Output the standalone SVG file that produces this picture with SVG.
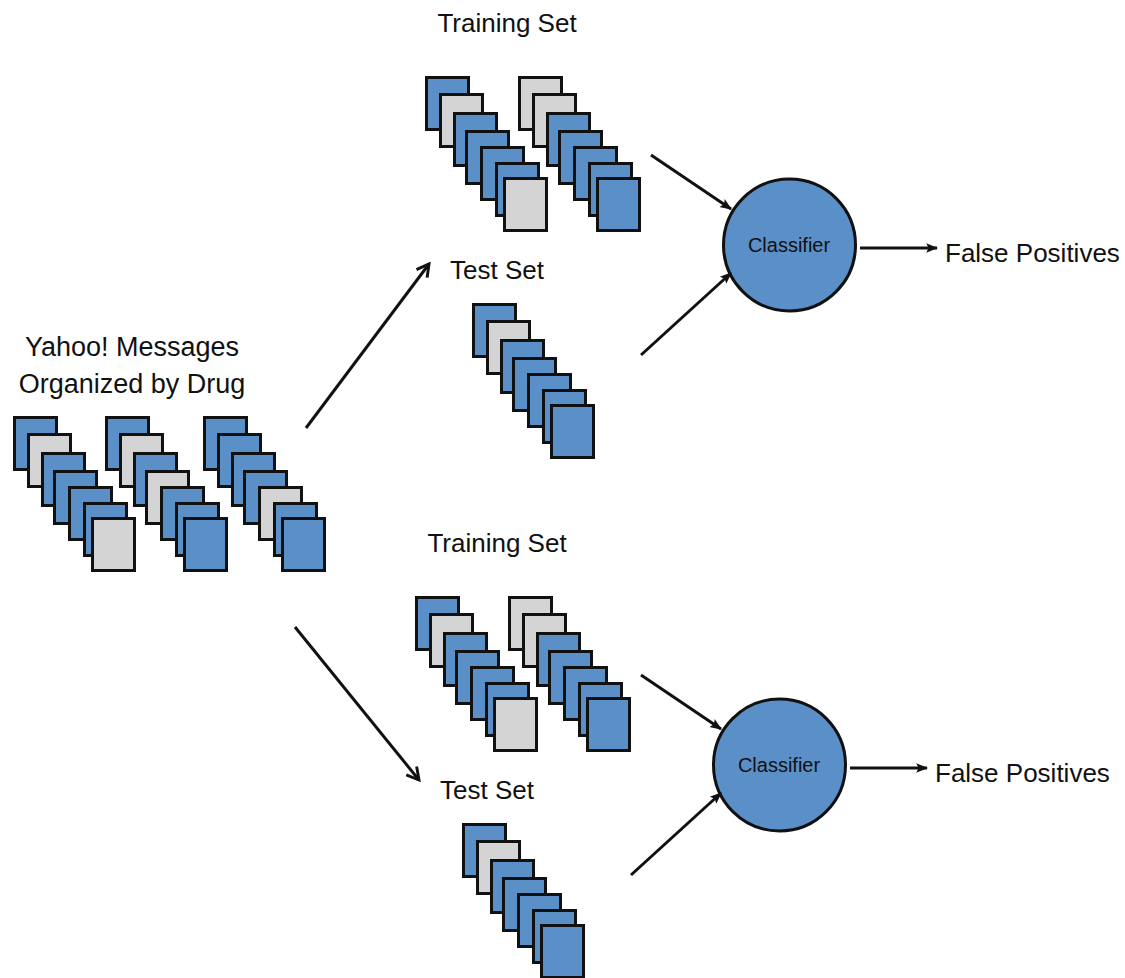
<svg xmlns="http://www.w3.org/2000/svg" width="1125" height="978" viewBox="0 0 1125 978">
<defs>
<style>
.b{fill:#5b8fc7;stroke:#111;stroke-width:3}
.g{fill:#d4d4d4;stroke:#111;stroke-width:3}
.c{fill:#5b8fc7;stroke:#111;stroke-width:3}
.t{font-family:"Liberation Sans",Arial,sans-serif;font-size:26px;fill:#111}
.ct{font-family:"Liberation Sans",Arial,sans-serif;font-size:20px;fill:#111;text-anchor:middle}
.m{text-anchor:middle}
.l{stroke:#111;stroke-width:3;fill:none}
.l2{stroke:#111;stroke-width:3;fill:none}
</style>
<marker id="open" viewBox="0 0 12 12" refX="10" refY="6" markerWidth="16" markerHeight="16" markerUnits="userSpaceOnUse" orient="auto">
<path d="M1,1 L10,6 L1,11" fill="none" stroke="#111" stroke-width="2.2"/>
</marker>
<marker id="tri" viewBox="0 0 10 10" refX="9" refY="5" markerWidth="12" markerHeight="12" markerUnits="userSpaceOnUse" orient="auto">
<path d="M0,1 L10,5 L0,9 L2,5 Z" fill="#111"/>
</marker>
<g id="stackBGBBBBG">
<rect class="b" x="1.5" y="1.5" width="42" height="52"/>
<rect class="g" x="15.5" y="18.5" width="42" height="52"/>
<rect class="b" x="29.5" y="37.5" width="42" height="52"/>
<rect class="b" x="41.5" y="55.5" width="42" height="52"/>
<rect class="b" x="56.5" y="71.5" width="42" height="52"/>
<rect class="b" x="71.5" y="87.5" width="42" height="52"/>
<rect class="g" x="79.5" y="102.5" width="42" height="52"/>
</g>
<g id="stackGGBBBBB">
<rect class="g" x="1.5" y="1.5" width="42" height="52"/>
<rect class="g" x="15.5" y="18.5" width="42" height="52"/>
<rect class="b" x="29.5" y="37.5" width="42" height="52"/>
<rect class="b" x="41.5" y="55.5" width="42" height="52"/>
<rect class="b" x="56.5" y="71.5" width="42" height="52"/>
<rect class="b" x="71.5" y="87.5" width="42" height="52"/>
<rect class="b" x="79.5" y="102.5" width="42" height="52"/>
</g>
<g id="stackBGBBBBB">
<rect class="b" x="1.5" y="1.5" width="42" height="52"/>
<rect class="g" x="15.5" y="18.5" width="42" height="52"/>
<rect class="b" x="29.5" y="37.5" width="42" height="52"/>
<rect class="b" x="41.5" y="55.5" width="42" height="52"/>
<rect class="b" x="56.5" y="71.5" width="42" height="52"/>
<rect class="b" x="71.5" y="87.5" width="42" height="52"/>
<rect class="b" x="79.5" y="102.5" width="42" height="52"/>
</g>
</defs>
<rect width="1125" height="978" fill="#fff"/>

<g id="source">
<text class="t m" x="132" y="356" style="font-size:27px">Yahoo! Messages</text>
<text class="t m" x="132" y="393" style="font-size:27px">Organized by Drug</text>
<g transform="translate(13,416)" id="src-stack1">
<rect class="b" x="1.5" y="1.5" width="42" height="52"/>
<rect class="g" x="15.5" y="18.5" width="42" height="52"/>
<rect class="b" x="29.5" y="37.5" width="42" height="52"/>
<rect class="b" x="41.5" y="55.5" width="42" height="52"/>
<rect class="b" x="56.5" y="71.5" width="42" height="52"/>
<rect class="b" x="71.5" y="87.5" width="42" height="52"/>
<rect class="g" x="79.5" y="102.5" width="42" height="52"/>
</g>
<g transform="translate(105,416)" id="src-stack2">
<rect class="b" x="1.5" y="1.5" width="42" height="52"/>
<rect class="g" x="15.5" y="18.5" width="42" height="52"/>
<rect class="b" x="29.5" y="37.5" width="42" height="52"/>
<rect class="g" x="41.5" y="55.5" width="42" height="52"/>
<rect class="b" x="56.5" y="71.5" width="42" height="52"/>
<rect class="b" x="71.5" y="87.5" width="42" height="52"/>
<rect class="b" x="79.5" y="102.5" width="42" height="52"/>
</g>
<g transform="translate(203,416)" id="src-stack3">
<rect class="b" x="1.5" y="1.5" width="42" height="52"/>
<rect class="b" x="15.5" y="18.5" width="42" height="52"/>
<rect class="b" x="29.5" y="37.5" width="42" height="52"/>
<rect class="b" x="41.5" y="55.5" width="42" height="52"/>
<rect class="g" x="56.5" y="71.5" width="42" height="52"/>
<rect class="b" x="71.5" y="87.5" width="42" height="52"/>
<rect class="b" x="79.5" y="102.5" width="42" height="52"/>
</g>
</g>

<g id="train-top">
<text class="t m" x="507" y="32">Training Set</text>
<use href="#stackBGBBBBG" x="425" y="76"/>
<use href="#stackGGBBBBB" x="518" y="76"/>
</g>
<g id="test-top">
<text class="t m" x="497" y="279">Test Set</text>
<use href="#stackBGBBBBB" x="472" y="303"/>
</g>
<g id="classifier-top">
<circle class="c" cx="789.5" cy="245" r="66"/>
<text class="ct" x="789" y="252">Classifier</text>
</g>
<g id="fp-top">
<text class="t" x="945" y="262">False Positives</text>
</g>

<g id="train-bottom">
<text class="t m" x="497" y="552">Training Set</text>
<use href="#stackBGBBBBG" x="415" y="596"/>
<use href="#stackGGBBBBB" x="508" y="596"/>
</g>
<g id="test-bottom">
<text class="t m" x="487" y="799">Test Set</text>
<use href="#stackBGBBBBB" x="462" y="823"/>
</g>
<g id="classifier-bottom">
<circle class="c" cx="779.5" cy="765" r="66"/>
<text class="ct" x="779" y="772">Classifier</text>
</g>
<g id="fp-bottom">
<text class="t" x="935" y="782">False Positives</text>
</g>

<g id="connectors">
<line class="l" x1="306" y1="428" x2="429" y2="264" marker-end="url(#open)"/>
<line class="l" x1="295" y1="627" x2="419" y2="780" marker-end="url(#open)"/>
<line class="l2" x1="651" y1="155" x2="731" y2="209" marker-end="url(#tri)"/>
<line class="l2" x1="641" y1="355" x2="731" y2="273" marker-end="url(#tri)"/>
<line class="l2" x1="860" y1="248" x2="937" y2="248" marker-end="url(#tri)"/>
<line class="l2" x1="641" y1="675" x2="721" y2="729" marker-end="url(#tri)"/>
<line class="l2" x1="631" y1="875" x2="721" y2="793" marker-end="url(#tri)"/>
<line class="l2" x1="850" y1="768" x2="927" y2="768" marker-end="url(#tri)"/>
</g>
</svg>
